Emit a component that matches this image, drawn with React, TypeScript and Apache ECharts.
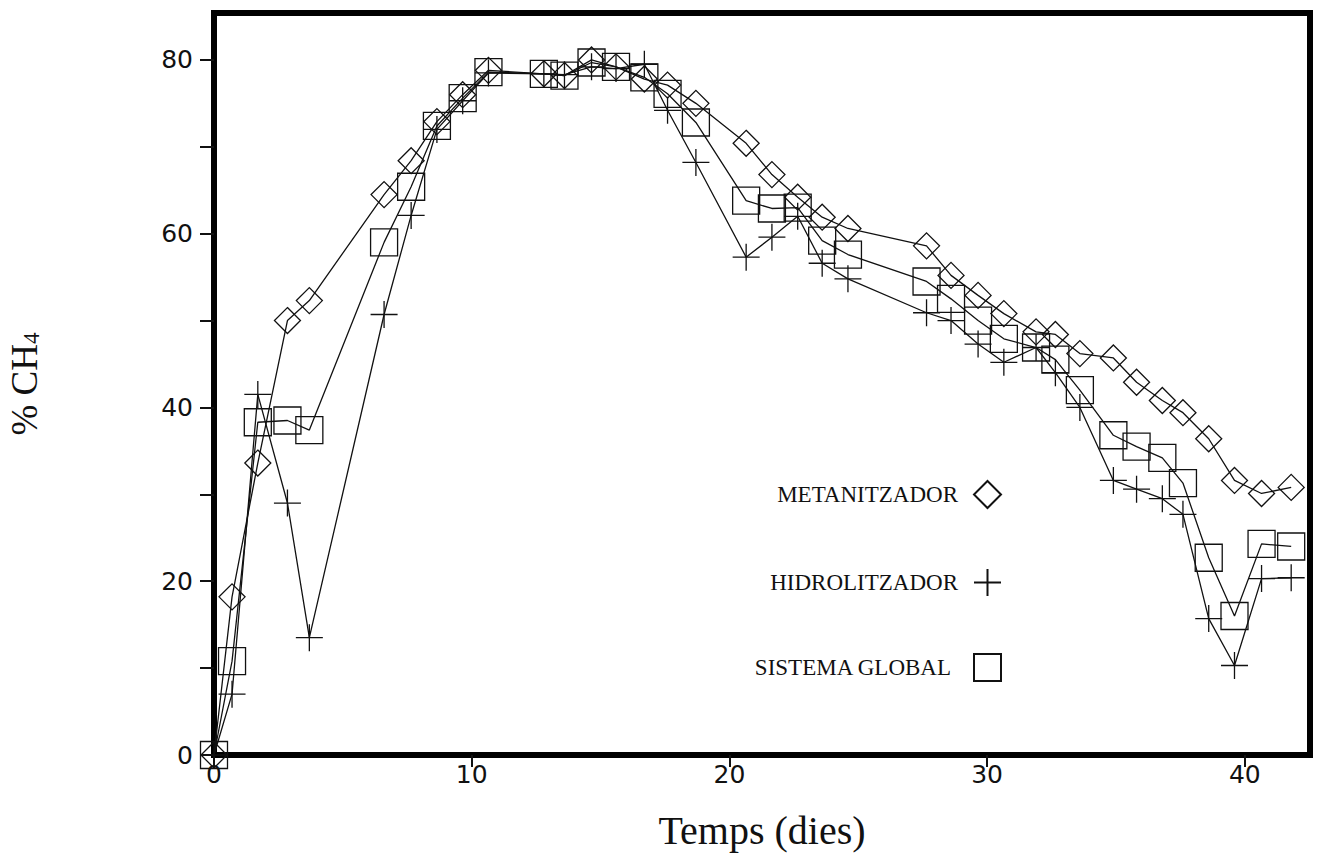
import { useEffect, useRef } from 'react';
import * as echarts from 'echarts';

// Sampling days (x) and % CH4 for each reactor
const days = [0, 0.7, 1.7, 2.85, 3.7, 6.6, 7.65, 8.65, 9.65, 10.65, 12.8, 13.6, 14.65, 15.6, 16.7, 17.6, 18.7, 20.65, 21.65, 22.65, 23.6, 24.6, 27.65, 28.6, 29.65, 30.65, 31.9, 32.65, 33.6, 34.9, 35.8, 36.8, 37.6, 38.6, 39.6, 40.65, 41.8];
const metanitzador = [0, 18.2, 33.6, 50.0, 52.3, 64.5, 68.4, 72.9, 76.0, 78.8, 78.4, 78.2, 80.0, 79.2, 77.8, 77.1, 75.0, 70.4, 66.8, 64.2, 61.9, 60.6, 58.6, 55.2, 52.9, 50.8, 48.7, 48.4, 46.2, 45.7, 42.9, 40.8, 39.4, 36.4, 31.6, 30.1, 30.8];
const hidrolitzador = [0, 7.0, 41.5, 29.0, 13.5, 50.7, 62.1, 72.0, 75.3, 78.5, 78.4, 78.3, 79.2, 79.0, 79.5, 74.2, 68.2, 57.3, 59.6, 62.0, 56.6, 54.8, 50.9, 50.0, 47.3, 45.2, 46.9, 44.0, 40.0, 31.6, 30.6, 29.5, 27.7, 15.7, 10.3, 20.3, 20.4];
const sistemaGlobal = [0, 10.8, 38.3, 38.5, 37.4, 59.0, 65.4, 72.4, 75.6, 78.6, 78.4, 78.2, 79.7, 79.2, 78.0, 76.1, 72.8, 63.8, 62.9, 63.0, 59.2, 57.6, 54.5, 52.5, 50.0, 47.9, 46.9, 45.5, 42.0, 36.8, 35.5, 34.2, 31.3, 22.7, 16.0, 24.3, 24.0];

const xTicks = [0, 10, 20, 30, 40];
const yTicks = [0, 10, 20, 30, 40, 50, 60, 70, 80];
const yLabels = [0, 20, 40, 60, 80];

const seriesNames = ['METANITZADOR', 'HIDROLITZADOR', 'SISTEMA GLOBAL'];

const PLUS = 'path://M0,5H10M5,0V10';

const zip = (ys: number[]) => days.map((d, i) => [d, ys[i]]);

export default function App() {
  const ref = useRef<HTMLDivElement>(null);

  useEffect(() => {
    if (!ref.current) return;
    const chart = echarts.init(ref.current, null, { renderer: 'svg' });

    const axisFont = { fontFamily: 'DejaVu Sans', fontSize: 25, color: '#111' };
    const serif = 'Liberation Serif';

    const lineSeries = (name: string, ys: number[], symbol: string, size: number) => ({
      name,
      type: 'line',
      data: zip(ys),
      symbol,
      symbolSize: size,
      showAllSymbol: true,
      lineStyle: { color: '#111', width: 1.3 },
      itemStyle: { color: 'transparent', borderColor: '#111', borderWidth: 1.3 },
      emphasis: { disabled: true },
      z: 3,
    });

    const legendItem = (name: string, icon: string, top: number, padRight: number) => ({
      data: [{ name, icon }],
      right: 314,
      top,
      align: 'right',
      itemWidth: 27,
      itemHeight: 27,
      selectedMode: false,
      textStyle: { fontFamily: serif, fontSize: 23, color: '#111', padding: [0, padRight, 0, 0] },
    });

    chart.setOption({
      animation: false,
      backgroundColor: '#fff',
      grid: {
        left: 214,
        right: 11,
        top: 13,
        bottom: 107,
        show: true,
        borderColor: '#000',
        borderWidth: 6,
        containLabel: false,
        outerBoundsMode: 'none',
      },
      legend: [
        legendItem(seriesNames[0], 'diamond', 475, 11),
        legendItem(seriesNames[1], PLUS, 563, 11),
        legendItem(seriesNames[2], 'rect', 648, 18),
      ],
      xAxis: {
        type: 'value',
        min: 0,
        max: 42.53,
        interval: 10,
        name: 'Temps (dies)',
        nameLocation: 'middle',
        nameGap: 55,
        nameTextStyle: { fontFamily: serif, fontSize: 40, color: '#111' },
        axisLine: { show: false },
        axisTick: { show: true, inside: false, length: 12, customValues: xTicks, lineStyle: { color: '#111', width: 2 } },
        axisLabel: { ...axisFont, margin: 7, customValues: xTicks },
        splitLine: { show: false },
      },
      yAxis: {
        type: 'value',
        min: 0,
        max: 85.4,
        interval: 10,
        name: '% CH{sub|4}',
        nameLocation: 'middle',
        nameRotate: 90,
        nameGap: 171,
        nameTextStyle: {
          fontFamily: serif,
          fontSize: 37,
          color: '#111',
          rich: { sub: { fontFamily: serif, fontSize: 23, color: '#111', verticalAlign: 'bottom', padding: [12, 0, 0, 0] } },
        },
        axisLine: { show: false },
        axisTick: { show: true, inside: false, length: 14, customValues: yTicks, lineStyle: { color: '#111', width: 2 } },
        axisLabel: { ...axisFont, margin: 21, customValues: yLabels },
        splitLine: { show: false },
      },
      series: [
        lineSeries(seriesNames[0], metanitzador, 'diamond', 26),
        lineSeries(seriesNames[1], hidrolitzador, PLUS, 27),
        lineSeries(seriesNames[2], sistemaGlobal, 'rect', 27),
      ],
    });

    return () => chart.dispose();
  }, []);

  return (
    <div
      ref={ref}
      style={{ position: 'fixed', left: 0, top: 0, width: 1321, height: 862, background: '#fff' }}
    />
  );
}
